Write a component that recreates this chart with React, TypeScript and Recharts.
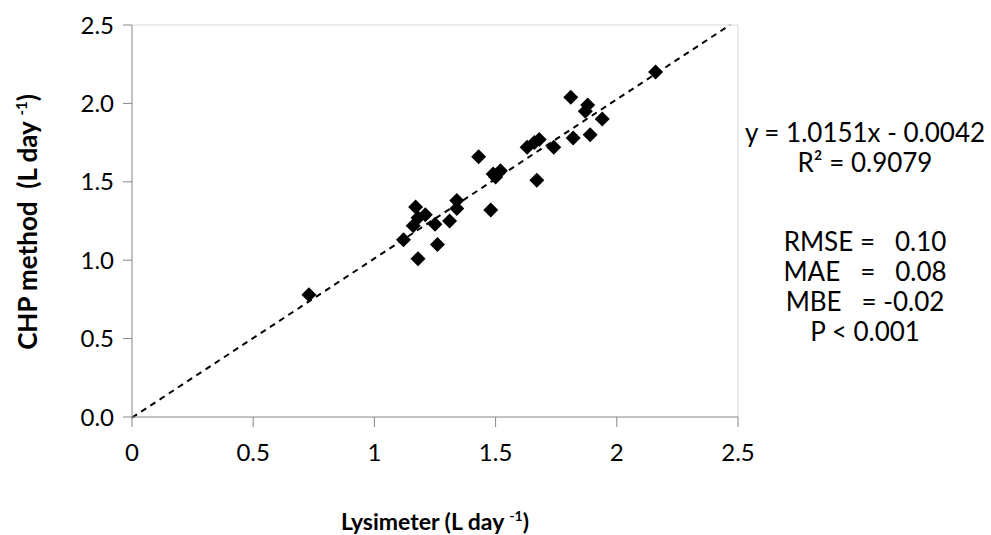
import React from 'react';
import { ScatterChart, Scatter, XAxis, YAxis, ReferenceLine } from 'recharts';

// Lysimeter vs CHP method daily water use (L day-1)
const lysimeter = [
  0.73, 1.12, 1.18, 1.26, 1.16, 1.18, 1.17, 1.21, 1.25, 1.31,
  1.34, 1.34, 1.48, 1.43, 1.49, 1.52, 1.50, 1.67, 1.63, 1.66,
  1.68, 1.74, 1.81, 1.88, 1.87, 1.94, 1.82, 1.89, 2.16,
];
const chp = [
  0.78, 1.13, 1.01, 1.10, 1.22, 1.27, 1.34, 1.29, 1.23, 1.25,
  1.38, 1.33, 1.32, 1.66, 1.55, 1.57, 1.53, 1.51, 1.72, 1.75,
  1.77, 1.72, 2.04, 1.99, 1.95, 1.90, 1.78, 1.80, 2.20,
];

const xTicks = [0, 0.5, 1, 1.5, 2, 2.5];
const yTicks = [0, 0.5, 1, 1.5, 2, 2.5];

// fitted line, as printed on the chart
const slope = 1.0151;
const intercept = -0.0042;
const trendEnds = [0, 2.467];

const statsLines = [
  'y = 1.0151x - 0.0042',
  'R² = 0.9079',
  '',
  'RMSE =   0.10',
  'MAE   =   0.08',
  'MBE   = -0.02',
  'P < 0.001',
];

const points = lysimeter.map((x, i) => ({ x, y: chp[i] }));

const FONT = 'Lato, "Open Sans", sans-serif';
const AXIS = '#868686';

function Diamond(props: any) {
  const { cx, cy } = props;
  const r = 7.5;
  return (
    <polygon
      points={`${cx},${cy - r} ${cx + r},${cy} ${cx},${cy + r} ${cx - r},${cy}`}
      fill="#000"
    />
  );
}

export default function App() {
  const tickStyle = { fill: '#000', fontSize: 24, fontFamily: FONT };

  return (
    <div style={{ position: 'absolute', left: 0, top: 0, width: 991, height: 535, background: '#fff' }}>
      <ScatterChart
        width={991}
        height={535}
        margin={{ top: 25, right: 253, bottom: 58, left: 52 }}
      >
        <XAxis
          type="number"
          dataKey="x"
          domain={[0, 2.5]}
          ticks={xTicks}
          allowDataOverflow
          stroke={AXIS}
          tickSize={10}
          tickMargin={17}
          height={60}
          tick={tickStyle}
        />
        <YAxis
          type="number"
          dataKey="y"
          domain={[0, 2.5]}
          ticks={yTicks}
          allowDataOverflow
          stroke={AXIS}
          tickSize={9}
          tickMargin={9}
          width={80}
          tick={tickStyle}
          tickFormatter={(v: number) => v.toFixed(1)}
        />
        <ReferenceLine y={2.5} stroke="#d9d9d9" strokeWidth={1} />
        <ReferenceLine x={2.5} stroke="#d9d9d9" strokeWidth={1} />
        <ReferenceLine
          segment={trendEnds.map((x) => ({ x, y: slope * x + intercept }))}
          stroke="#000"
          strokeWidth={2}
          strokeDasharray="6 5"
          ifOverflow="visible"
        />
        <Scatter data={points} shape={Diamond} isAnimationActive={false} />
      </ScatterChart>

      {/* y axis title */}
      <div
        style={{
          position: 'absolute',
          left: 27,
          top: 222,
          transform: 'translate(-50%, -50%) rotate(-90deg)',
          whiteSpace: 'nowrap',
          fontFamily: FONT,
          fontWeight: 'bold',
          fontSize: 26,
        }}
      >
        CHP method&nbsp; (L day <sup style={{ fontSize: 15 }}>-1</sup>)
      </div>

      {/* x axis title */}
      <div
        style={{
          position: 'absolute',
          left: 435,
          top: 521,
          transform: 'translate(-50%, -50%)',
          whiteSpace: 'nowrap',
          fontFamily: FONT,
          fontWeight: 'bold',
          fontSize: 23,
        }}
      >
        Lysimeter (L day <sup style={{ fontSize: 14 }}>-1</sup>)
      </div>

      {/* regression / error stats */}
      <div
        style={{
          position: 'absolute',
          left: 865,
          top: 117,
          transform: 'translateX(-50%)',
          textAlign: 'center',
          whiteSpace: 'pre',
          fontFamily: FONT,
          fontSize: 26,
          lineHeight: '30px',
        }}
      >
        {statsLines.map((s, i) => (
          <div key={i} style={{ height: i === 2 ? 49 : 30 }}>{s}</div>
        ))}
      </div>
    </div>
  );
}
